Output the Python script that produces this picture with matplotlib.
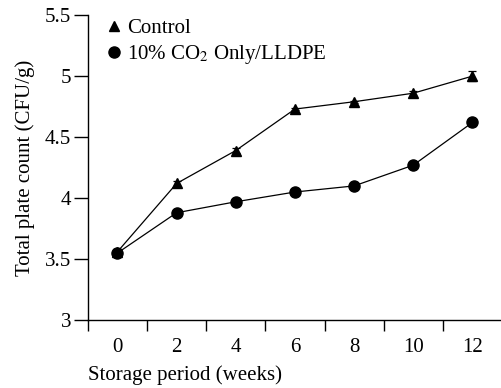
import numpy as np
import matplotlib
matplotlib.use('Agg')
import matplotlib.pyplot as plt

weeks = ['0', '2', '4', '6', '8', '10', '12']
control = [3.56, 4.12, 4.39, 4.73, 4.79, 4.86, 5.00]
control_err = [0.02, 0.02, 0.02, 0.01, 0.01, 0.02, 0.04]
co2 = [3.55, 3.88, 3.97, 4.05, 4.10, 4.27, 4.62]
co2_err = [0.02, 0.01, 0.01, 0.01, 0.01, 0.01, 0.03]

plt.rcParams['font.family'] = ['Liberation Serif', 'DejaVu Serif']
plt.rcParams['mathtext.fontset'] = 'stix'

fig = plt.figure(figsize=(5.02, 3.88), dpi=100)
ax = fig.add_axes([0.175, 0.175, 0.825, 0.786])
x = np.arange(len(weeks))

ax.errorbar(x, control, yerr=control_err, color='black', marker='^', ms=6.5, lw=0.9,
            capsize=3, elinewidth=0.9, capthick=0.9, label='Control')
ax.errorbar(x, co2, yerr=co2_err, color='black', marker='o', ms=8, lw=0.9,
            capsize=3, elinewidth=0.9, capthick=0.9, label='10% CO$_2$ Only/LLDPE')

ax.set_xlim(-0.5, 6.5)
ax.set_ylim(3, 5.5)
ax.set_yticks([3, 3.5, 4, 4.5, 5, 5.5])
ax.set_yticklabels(['3', '3.5', '4', '4.5', '5', '5.5'])
ax.set_xticks(x)
ax.set_xticklabels(weeks)
ax.set_xticks(np.arange(-0.5, 6.0, 1), minor=True)
ax.tick_params(axis='x', which='major', length=0, pad=13, labelsize=15)
ax.tick_params(axis='x', which='minor', length=8, width=1, direction='out')
ax.tick_params(axis='y', which='major', length=10, width=1, direction='out', labelsize=15, pad=2)
for s in ['top', 'right']:
    ax.spines[s].set_visible(False)
for s in ['left', 'bottom']:
    ax.spines[s].set_linewidth(1)

ax.set_xlabel('Storage period (weeks)', fontsize=15, loc='left', labelpad=6)
ax.set_ylabel('Total plate count (CFU/g)', fontsize=15, labelpad=7)

hs, ls = ax.get_legend_handles_labels()
hs = [h[0] for h in hs]
leg = ax.legend(hs, ls, loc='upper left', frameon=False, fontsize=15, handlelength=0.5,
                handletextpad=0.4, borderaxespad=0.2, labelspacing=0.25,
                bbox_to_anchor=(0.02, 1.03))
for h in leg.legend_handles:
    h.set_linestyle('none')

fig.savefig('out.png', dpi=100)
